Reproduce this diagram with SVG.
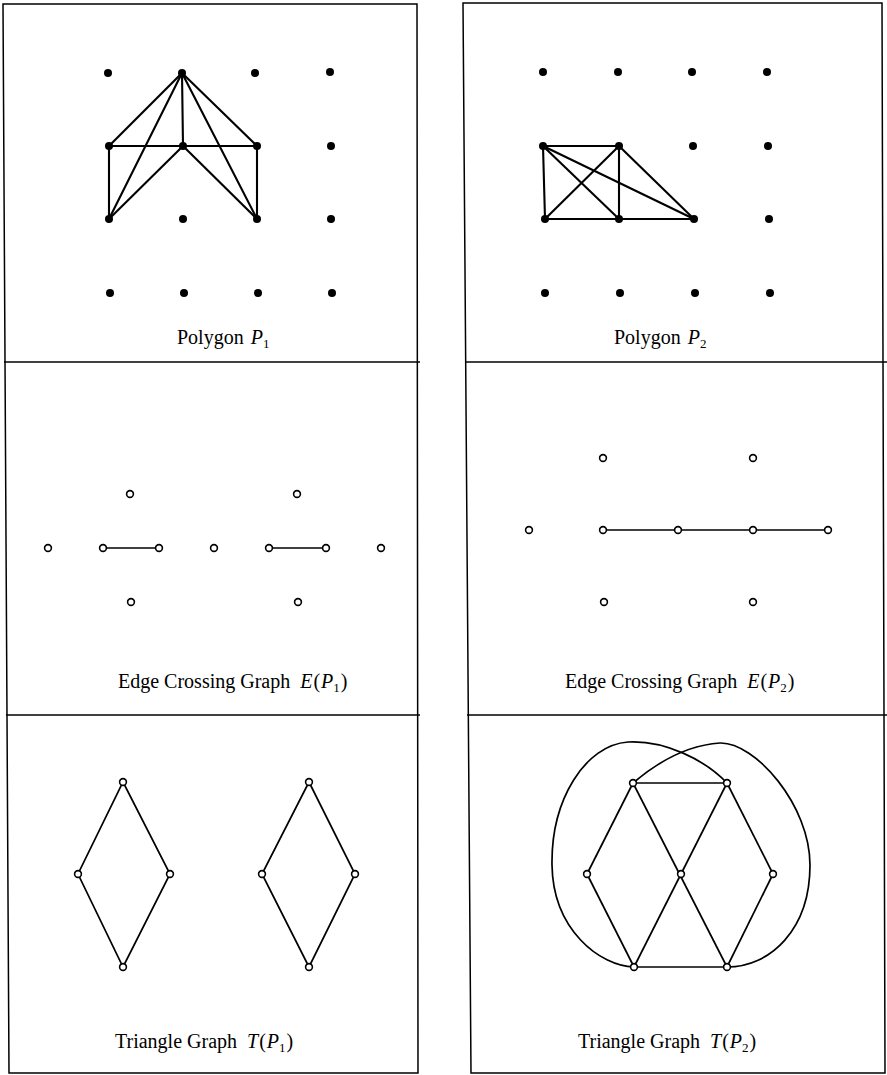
<svg xmlns="http://www.w3.org/2000/svg" width="887" height="1075" viewBox="0 0 887 1075">
<style>
.frame{fill:none;stroke:#000;stroke-width:1.5}
.dot{fill:#000}
.oc{fill:#fff;stroke:#000;stroke-width:1.6}
.pe{stroke:#000;stroke-width:2.1;fill:none;stroke-linecap:round}
.ge{stroke:#000;stroke-width:1.7;fill:none}
.lbl{font-family:"Liberation Serif","Times New Roman",serif;font-size:20px;fill:#000}
.it{font-style:italic}
.sub{font-size:13px}
</style>
<rect width="887" height="1075" fill="#fff"/>
<g id="frames">
<polygon class="frame" points="3,4 417,4 418,1073 9,1073"/>
<line class="frame" x1="4" y1="362" x2="420" y2="362"/>
<line class="frame" x1="6" y1="715" x2="420" y2="715"/>
<polygon class="frame" points="463,3 882,3 885,1073 471,1073"/>
<line class="frame" x1="465" y1="362" x2="887" y2="362"/>
<line class="frame" x1="467" y1="715" x2="887" y2="715"/>
</g>
<g id="connectors">
<g id="p1-edges">
<line class="pe" x1="182" y1="73" x2="109" y2="146"/>
<line class="pe" x1="182" y1="73" x2="183" y2="146"/>
<line class="pe" x1="182" y1="73" x2="257" y2="146"/>
<line class="pe" x1="182" y1="73" x2="109" y2="219"/>
<line class="pe" x1="182" y1="73" x2="257" y2="219"/>
<line class="pe" x1="109" y1="146" x2="257" y2="146"/>
<line class="pe" x1="109" y1="146" x2="109" y2="219"/>
<line class="pe" x1="257" y1="146" x2="257" y2="219"/>
<line class="pe" x1="183" y1="146" x2="109" y2="219"/>
<line class="pe" x1="183" y1="146" x2="257" y2="219"/>
</g>
<g id="p2-edges">
<line class="pe" x1="543" y1="146" x2="619" y2="146"/>
<line class="pe" x1="543" y1="146" x2="545" y2="219"/>
<line class="pe" x1="619" y1="146" x2="619" y2="219"/>
<line class="pe" x1="545" y1="219" x2="694" y2="219"/>
<line class="pe" x1="543" y1="146" x2="619" y2="219"/>
<line class="pe" x1="619" y1="146" x2="545" y2="219"/>
<line class="pe" x1="543" y1="146" x2="694" y2="219"/>
<line class="pe" x1="619" y1="146" x2="694" y2="219"/>
</g>
<g id="e1-edges">
<line class="ge" x1="103" y1="548" x2="159" y2="548"/>
<line class="ge" x1="269" y1="548" x2="326" y2="548"/>
</g>
<g id="e2-edges">
<line class="ge" x1="603" y1="530" x2="828" y2="530"/>
</g>
<g id="t1-edges">
<polygon class="ge" points="123,782 170,874 123,967 78,874"/>
<polygon class="ge" points="309,782 355,874 309,967 262,874"/>
</g>
<g id="t2-edges">
<line class="ge" x1="633" y1="783" x2="727" y2="783"/>
<line class="ge" x1="633" y1="783" x2="587" y2="874"/>
<line class="ge" x1="633" y1="783" x2="727" y2="967"/>
<line class="ge" x1="727" y1="783" x2="634" y2="967"/>
<line class="ge" x1="727" y1="783" x2="773" y2="874"/>
<line class="ge" x1="587" y1="874" x2="634" y2="967"/>
<line class="ge" x1="773" y1="874" x2="727" y2="967"/>
<line class="ge" x1="634" y1="967" x2="727" y2="967"/>
<path class="ge" d="M634,967 C600,966 553,930 552,865 C551,800 585,745 628,742 C665,740 705,760 727,783"/>
<path class="ge" d="M633,783 C660,760 690,745 720,743 C755,742 810,805 810,865 C810,930 770,967 727,967"/>
</g>
</g>
<g id="p1-nodes">
<g id="p1-n11"><circle class="dot" cx="108" cy="73" r="4"/></g>
<g id="p1-n12"><circle class="dot" cx="182" cy="73" r="4"/></g>
<g id="p1-n13"><circle class="dot" cx="255" cy="73" r="4"/></g>
<g id="p1-n14"><circle class="dot" cx="330" cy="72" r="4"/></g>
<g id="p1-n21"><circle class="dot" cx="109" cy="146" r="4"/></g>
<g id="p1-n22"><circle class="dot" cx="183" cy="146" r="4"/></g>
<g id="p1-n23"><circle class="dot" cx="257" cy="146" r="4"/></g>
<g id="p1-n24"><circle class="dot" cx="331" cy="146" r="4"/></g>
<g id="p1-n31"><circle class="dot" cx="109" cy="219" r="4"/></g>
<g id="p1-n32"><circle class="dot" cx="183" cy="219" r="4"/></g>
<g id="p1-n33"><circle class="dot" cx="257" cy="219" r="4"/></g>
<g id="p1-n34"><circle class="dot" cx="331" cy="219" r="4"/></g>
<g id="p1-n41"><circle class="dot" cx="110" cy="293" r="4"/></g>
<g id="p1-n42"><circle class="dot" cx="184" cy="293" r="4"/></g>
<g id="p1-n43"><circle class="dot" cx="258" cy="293" r="4"/></g>
<g id="p1-n44"><circle class="dot" cx="332" cy="293" r="4"/></g>
</g>
<g id="p2-nodes">
<g id="p2-n11"><circle class="dot" cx="543" cy="72" r="4"/></g>
<g id="p2-n12"><circle class="dot" cx="618" cy="72" r="4"/></g>
<g id="p2-n13"><circle class="dot" cx="692" cy="72" r="4"/></g>
<g id="p2-n14"><circle class="dot" cx="767" cy="72" r="4"/></g>
<g id="p2-n21"><circle class="dot" cx="543" cy="146" r="4"/></g>
<g id="p2-n22"><circle class="dot" cx="619" cy="146" r="4"/></g>
<g id="p2-n23"><circle class="dot" cx="693" cy="146" r="4"/></g>
<g id="p2-n24"><circle class="dot" cx="768" cy="146" r="4"/></g>
<g id="p2-n31"><circle class="dot" cx="545" cy="219" r="4"/></g>
<g id="p2-n32"><circle class="dot" cx="619" cy="219" r="4"/></g>
<g id="p2-n33"><circle class="dot" cx="694" cy="219" r="4"/></g>
<g id="p2-n34"><circle class="dot" cx="769" cy="219" r="4"/></g>
<g id="p2-n41"><circle class="dot" cx="545" cy="293" r="4"/></g>
<g id="p2-n42"><circle class="dot" cx="620" cy="293" r="4"/></g>
<g id="p2-n43"><circle class="dot" cx="695" cy="293" r="4"/></g>
<g id="p2-n44"><circle class="dot" cx="770" cy="293" r="4"/></g>
</g>
<g id="e1-nodes">
<g id="e1-a"><circle class="oc" cx="48" cy="548" r="3.4"/></g>
<g id="e1-b"><circle class="oc" cx="103" cy="548" r="3.4"/></g>
<g id="e1-c"><circle class="oc" cx="130" cy="494" r="3.4"/></g>
<g id="e1-d"><circle class="oc" cx="131" cy="602" r="3.4"/></g>
<g id="e1-e"><circle class="oc" cx="159" cy="548" r="3.4"/></g>
<g id="e1-f"><circle class="oc" cx="214" cy="548" r="3.4"/></g>
<g id="e1-g"><circle class="oc" cx="269" cy="548" r="3.4"/></g>
<g id="e1-h"><circle class="oc" cx="297" cy="494" r="3.4"/></g>
<g id="e1-i"><circle class="oc" cx="298" cy="602" r="3.4"/></g>
<g id="e1-j"><circle class="oc" cx="326" cy="548" r="3.4"/></g>
<g id="e1-k"><circle class="oc" cx="381" cy="548" r="3.4"/></g>
</g>
<g id="e2-nodes">
<g id="e2-a"><circle class="oc" cx="529" cy="530" r="3.4"/></g>
<g id="e2-b"><circle class="oc" cx="603" cy="458" r="3.4"/></g>
<g id="e2-c"><circle class="oc" cx="603" cy="530" r="3.4"/></g>
<g id="e2-d"><circle class="oc" cx="604" cy="602" r="3.4"/></g>
<g id="e2-e"><circle class="oc" cx="678" cy="530" r="3.4"/></g>
<g id="e2-f"><circle class="oc" cx="753" cy="458" r="3.4"/></g>
<g id="e2-g"><circle class="oc" cx="753" cy="530" r="3.4"/></g>
<g id="e2-h"><circle class="oc" cx="753" cy="602" r="3.4"/></g>
<g id="e2-i"><circle class="oc" cx="828" cy="530" r="3.4"/></g>
</g>
<g id="t1-nodes">
<g id="t1-a"><circle class="oc" cx="123" cy="782" r="3.4"/></g>
<g id="t1-b"><circle class="oc" cx="78" cy="874" r="3.4"/></g>
<g id="t1-c"><circle class="oc" cx="170" cy="874" r="3.4"/></g>
<g id="t1-d"><circle class="oc" cx="123" cy="967" r="3.4"/></g>
<g id="t1-e"><circle class="oc" cx="309" cy="782" r="3.4"/></g>
<g id="t1-f"><circle class="oc" cx="262" cy="874" r="3.4"/></g>
<g id="t1-g"><circle class="oc" cx="355" cy="874" r="3.4"/></g>
<g id="t1-h"><circle class="oc" cx="309" cy="967" r="3.4"/></g>
</g>
<g id="t2-nodes">
<g id="t2-tl"><circle class="oc" cx="633" cy="783" r="3.4"/></g>
<g id="t2-tr"><circle class="oc" cx="727" cy="783" r="3.4"/></g>
<g id="t2-l"><circle class="oc" cx="587" cy="874" r="3.4"/></g>
<g id="t2-c"><circle class="oc" cx="681" cy="874" r="3.4"/></g>
<g id="t2-r"><circle class="oc" cx="773" cy="874" r="3.4"/></g>
<g id="t2-bl"><circle class="oc" cx="634" cy="967" r="3.4"/></g>
<g id="t2-br"><circle class="oc" cx="727" cy="967" r="3.4"/></g>
</g>
<g id="labels">
<text class="lbl" x="177" y="344">Polygon <tspan class="it" dx="2">P</tspan><tspan class="sub" dy="4">1</tspan></text>
<text class="lbl" x="614" y="344">Polygon <tspan class="it" dx="2">P</tspan><tspan class="sub" dy="4">2</tspan></text>
<text class="lbl" x="118" y="688">Edge Crossing Graph <tspan class="it" dx="5">E</tspan><tspan dx="1">(</tspan><tspan class="it" dx="1">P</tspan><tspan class="sub" dy="4">1</tspan><tspan dy="-4" dx="1">)</tspan></text>
<text class="lbl" x="565" y="688">Edge Crossing Graph <tspan class="it" dx="5">E</tspan><tspan dx="1">(</tspan><tspan class="it" dx="1">P</tspan><tspan class="sub" dy="4">2</tspan><tspan dy="-4" dx="1">)</tspan></text>
<text class="lbl" x="115" y="1048">Triangle Graph <tspan class="it" dx="5">T</tspan><tspan dx="1">(</tspan><tspan class="it" dx="1">P</tspan><tspan class="sub" dy="4">1</tspan><tspan dy="-4" dx="1">)</tspan></text>
<text class="lbl" x="578" y="1048">Triangle Graph <tspan class="it" dx="5">T</tspan><tspan dx="1">(</tspan><tspan class="it" dx="1">P</tspan><tspan class="sub" dy="4">2</tspan><tspan dy="-4" dx="1">)</tspan></text>
</g>
</svg>
